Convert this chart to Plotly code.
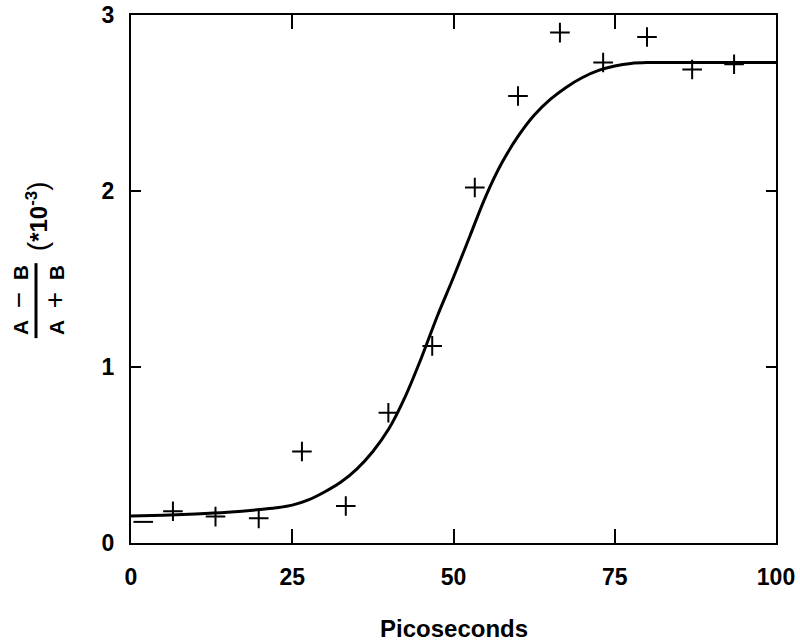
import plotly.graph_objects as go

# measured points (+ markers)
pts_x = [6.5, 13.1, 19.8, 26.5, 33.3, 39.9, 46.7, 53.3, 60.0, 66.5, 73.2, 80.0, 87.0, 93.5]
pts_y = [0.18, 0.15, 0.14, 0.52, 0.21, 0.74, 1.12, 2.02, 2.54, 2.90, 2.73, 2.875, 2.69, 2.72]

# first point drawn as a dash only
dash_x = [1.9]
dash_y = [0.12]

# fitted curve
fit_x = [0, 5, 10, 15, 20, 22.5, 25, 27.5, 30, 32.5, 35, 37.5, 40, 42.5, 45, 47.5, 50,
         52.5, 55, 57.5, 60, 62.5, 65, 67.5, 70, 72.5, 75, 77.5, 80, 85, 90, 100]
fit_y = [0.153, 0.158, 0.165, 0.175, 0.19, 0.20, 0.215, 0.245, 0.29, 0.345, 0.42, 0.52,
         0.65, 0.83, 1.05, 1.29, 1.51, 1.74, 1.97, 2.16, 2.31, 2.43, 2.52, 2.59, 2.645,
         2.685, 2.71, 2.725, 2.73, 2.73, 2.73, 2.73]

x_ticks = [0, 25, 50, 75, 100]
y_ticks = [0, 1, 2, 3]

FONT = "Liberation Sans, Arial, Helvetica, sans-serif"

fig = go.Figure()
fig.add_trace(go.Scatter(x=fit_x, y=fit_y, mode="lines",
                         line=dict(color="black", width=3, shape="spline", smoothing=1.0),
                         hoverinfo="skip", showlegend=False))
fig.add_trace(go.Scatter(x=pts_x, y=pts_y, mode="markers",
                         marker=dict(symbol="cross-thin", size=14, color="black",
                                     line=dict(color="black", width=2)),
                         showlegend=False))
fig.add_trace(go.Scatter(x=dash_x, y=dash_y, mode="markers",
                         marker=dict(symbol="line-ew", size=14, color="black",
                                     line=dict(color="black", width=2)),
                         showlegend=False))

axis_common = dict(showline=True, linecolor="black", linewidth=2, mirror="ticks",
                   ticks="inside", tickcolor="black", tickwidth=2, showgrid=False,
                   zeroline=False, automargin=False,
                   tickfont=dict(family=FONT, size=23, color="black", weight="bold"))

fig.update_xaxes(range=[0, 100], tickvals=x_ticks, ticklen=14, ticklabelstandoff=12,
                 **axis_common)
fig.update_yaxes(range=[0, 3], tickvals=y_ticks, ticklen=10, ticklabelstandoff=10,
                 **axis_common)

SP = "\u00a0\u00a0"
# y-axis title as a fraction
fig.add_annotation(xref="paper", yref="paper", x=0, y=0.46, xshift=-113,
                   text="<b>A</b>" + SP + "<span style='font-size:28px'>\u2212</span>" + SP + "<b>B</b>",
                   textangle=-90, showarrow=False,
                   font=dict(family=FONT, size=21, color="black"),
                   xanchor="center", yanchor="middle")
fig.add_annotation(xref="paper", yref="paper", x=0, y=0.46, xshift=-77,
                   text="<b>A</b>" + SP + "<span style='font-size:28px'>+</span>" + SP + "<b>B</b>",
                   textangle=-90, showarrow=False,
                   font=dict(family=FONT, size=21, color="black"),
                   xanchor="center", yanchor="middle")
fig.add_shape(type="line", xref="paper", yref="paper", xsizemode="pixel", xanchor=0,
              x0=-95, x1=-95, y0=0.388, y1=0.530, line=dict(color="black", width=3))
fig.add_annotation(xref="paper", yref="paper", x=0, y=0.619, xshift=-94,
                   text="<span style='font-size:28px'>(</span><b>*10</b><sup><b>-3</b></sup><span style='font-size:28px'>)</span>",
                   textangle=-90, showarrow=False,
                   font=dict(family=FONT, size=24, color="black"),
                   xanchor="center", yanchor="middle")
fig.add_annotation(xref="paper", yref="paper", x=0.5, y=0, yshift=-85,
                   text="Picoseconds", showarrow=False,
                   font=dict(family=FONT, size=24, color="black", weight="bold"),
                   xanchor="center", yanchor="middle")

fig.update_layout(width=800, height=642, plot_bgcolor="white", paper_bgcolor="white",
                  margin=dict(l=131, r=24, t=15, b=99))

fig.write_html("out.html")
